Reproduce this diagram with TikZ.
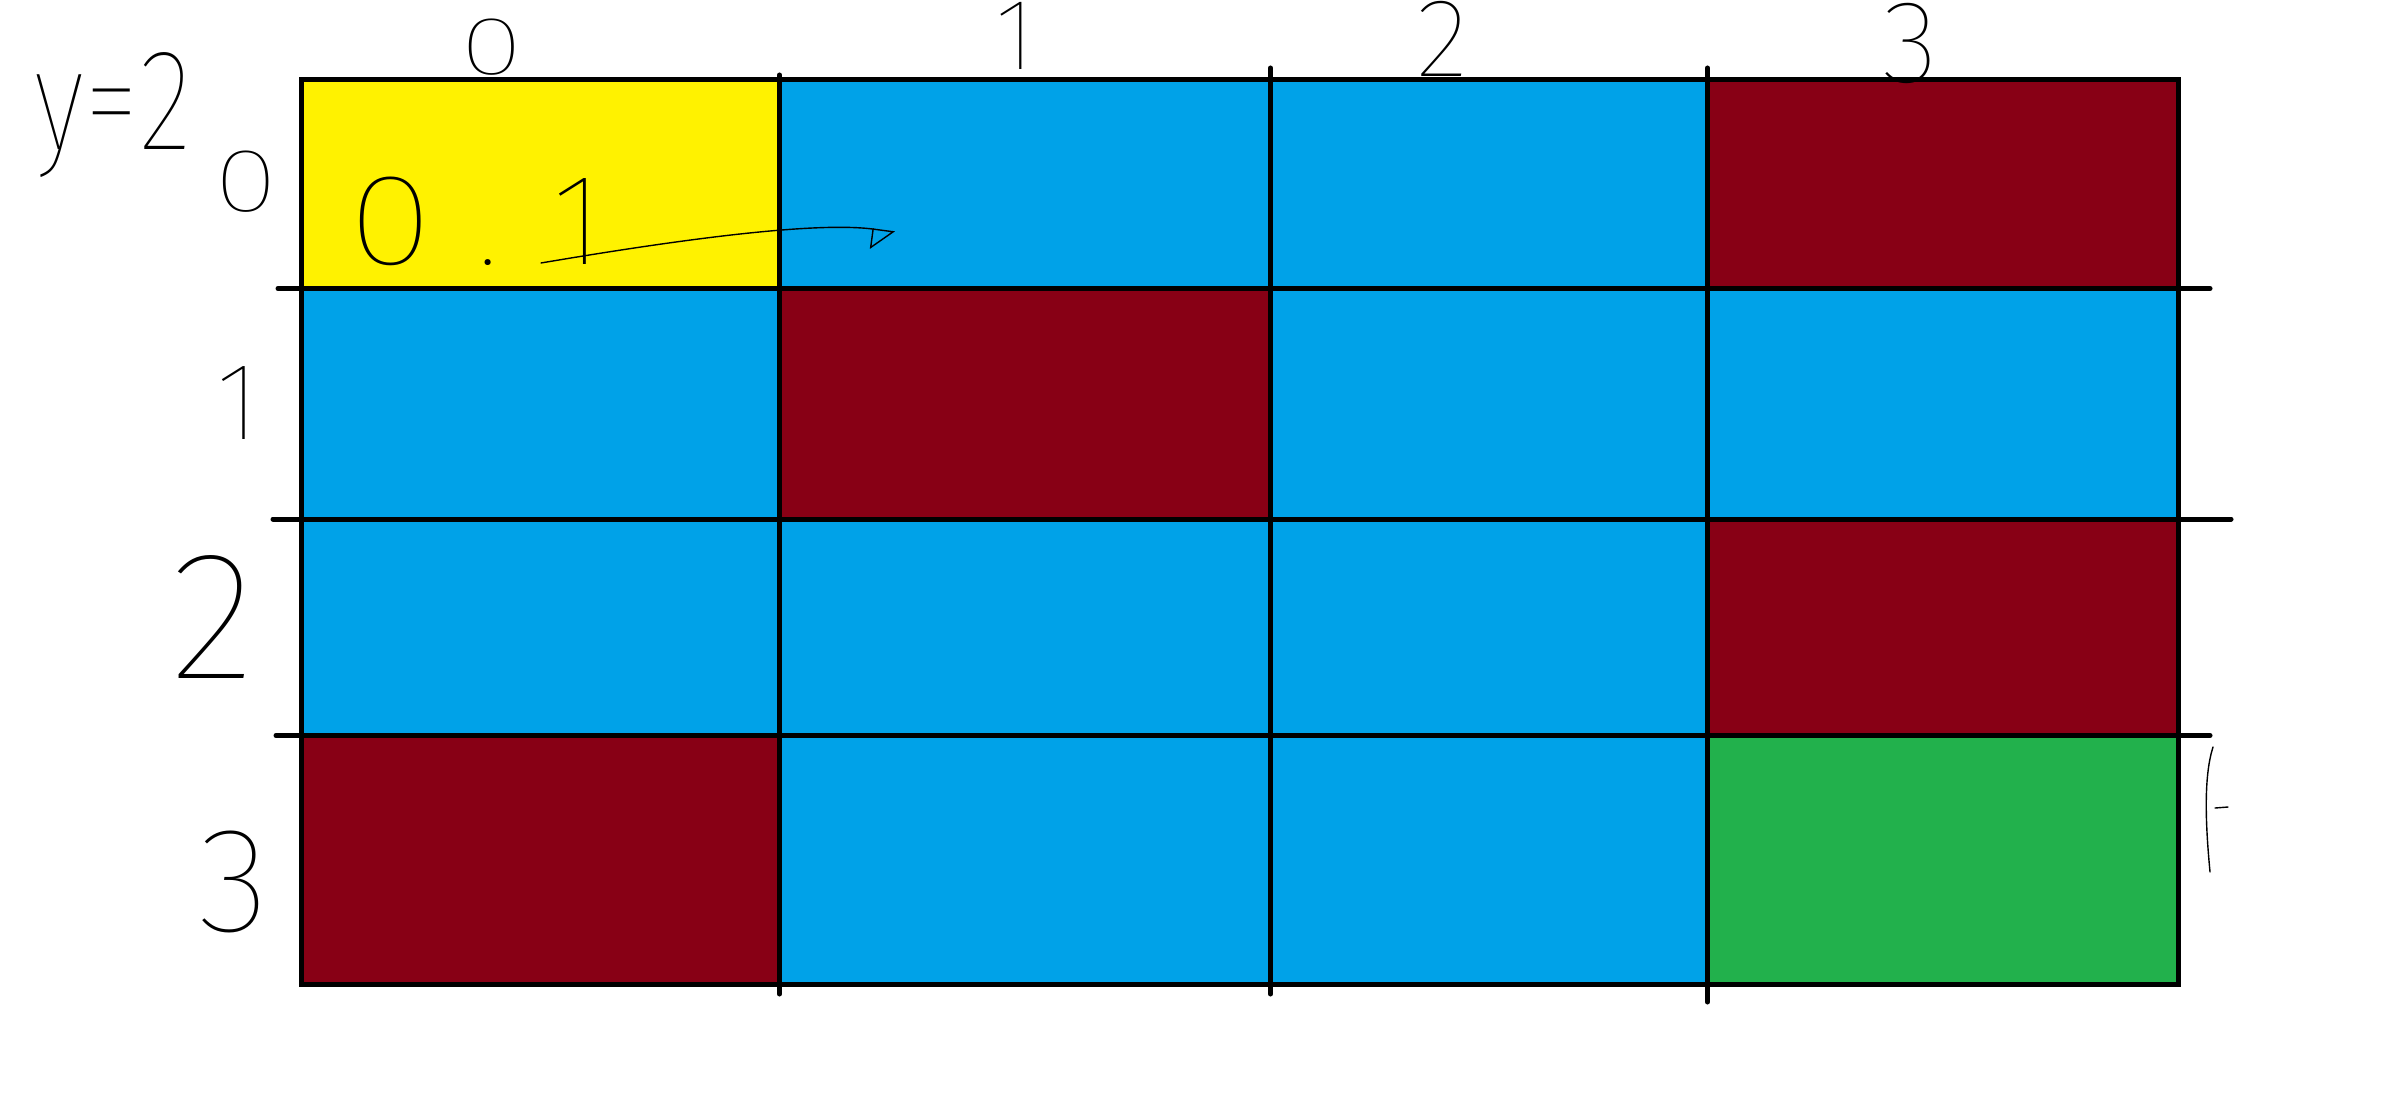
\documentclass[tikz,border=0pt]{standalone}
\usepackage{fontspec}
\usetikzlibrary{arrows.meta}
\IfFontExistsTF{Fira Sans Hair}{\newfontfamily\hand{Fira Sans Hair}}{%
 \IfFontExistsTF{Fira Sans Thin}{\newfontfamily\hand{Fira Sans Thin}}{%
  \IfFontExistsTF{Fira Sans Light}{\newfontfamily\hand{Fira Sans Light}}{%
   \newfontfamily\hand{Fira Sans}}}}
\definecolor{pyellow}{RGB}{255,242,0}
\definecolor{pblue}{RGB}{0,162,232}
\definecolor{pred}{RGB}{136,0,21}
\definecolor{pgreen}{RGB}{34,177,76}
\begin{document}
\begin{tikzpicture}[x=0.1mm,y=-0.1mm,
  gridline/.style={line width=0.5mm, line cap=round},
  ink/.style={line width=0.14mm, line cap=round, line join=round},
  lbl/.style={inner sep=0pt, anchor=base}]
\useasboundingbox (0,0) rectangle (2406,1108);
\fill[white] (0,0) rectangle (2406,1108);
% row 0
\fill[pyellow] (301.5,79.5) rectangle (779.5,288.5);
\fill[pblue]   (779.5,79.5) rectangle (1270.5,288.5);
\fill[pblue]   (1270.5,79.5) rectangle (1707.5,288.5);
\fill[pred]    (1707.5,79.5) rectangle (2178.5,288.5);
% row 1
\fill[pblue]   (301.5,288.5) rectangle (779.5,519);
\fill[pred]    (779.5,288.5) rectangle (1270.5,519);
\fill[pblue]   (1270.5,288.5) rectangle (1707.5,519);
\fill[pblue]   (1707.5,288.5) rectangle (2178.5,519);
% row 2
\fill[pblue]   (301.5,519) rectangle (779.5,735.5);
\fill[pblue]   (779.5,519) rectangle (1270.5,735.5);
\fill[pblue]   (1270.5,519) rectangle (1707.5,735.5);
\fill[pred]    (1707.5,519) rectangle (2178.5,735.5);
% row 3
\fill[pred]    (301.5,735.5) rectangle (779.5,984);
\fill[pblue]   (779.5,735.5) rectangle (1270.5,984);
\fill[pblue]   (1270.5,735.5) rectangle (1707.5,984);
\fill[pgreen]  (1707.5,735.5) rectangle (2178.5,984);
% grid lines
\draw[line width=0.5mm] (301.5,79.5) rectangle (2178.5,984);
\draw[gridline] (278,288.5) -- (2210,288.5);
\draw[gridline] (273,519) -- (2231,519);
\draw[gridline] (276,735.5) -- (2210,735.5);
\draw[gridline] (779.5,75) -- (779.5,994);
\draw[gridline] (1270.5,68) -- (1270.5,994);
\draw[gridline] (1707.5,68) -- (1707.5,1002);
% column labels
\node[lbl, font={\hand\fontsize{23.5pt}{24pt}\selectfont}] (c0) at (492,75) {\scalebox{1.4}[1]{0}};
\node[lbl, font={\hand\fontsize{28.9pt}{29pt}\selectfont}] (c1) at (1015,70) {1};
\node[lbl, font={\hand\fontsize{31.8pt}{32pt}\selectfont}] (c2) at (1442,77) {2};
\node[lbl, font={\hand\fontsize{33.5pt}{34pt}\selectfont}] (c3) at (1910,83) {3};
% row labels
\node[lbl, font={\hand\fontsize{41pt}{42pt}\selectfont}] (ylab) at (113,150) {\scalebox{0.78}[1]{y=2}};
\node[lbl, font={\hand\fontsize{25.6pt}{26pt}\selectfont}] (r0) at (246,212) {\scalebox{1.3}[1]{0}};
\node[lbl, font={\hand\fontsize{31.4pt}{32pt}\selectfont}] (r1) at (238,440) {1};
\node[lbl, font={\hand\fontsize{52pt}{52pt}\selectfont}] (r2) at (213,678) {2};
\node[lbl, font={\hand\fontsize{42.5pt}{43pt}\selectfont}] (r3) at (234,931) {3};
% value in start cell with arrow
\node[lbl, font={\hand\fontsize{37pt}{37pt}\selectfont}] (val) at (476,265) {\scalebox{1.2}[1]{0}\hspace{4.4mm}.\hspace{5.4mm}1};
\coordinate (astart) at (541,263);
\coordinate (atip) at (895,232);
\draw[ink, -{Triangle[open, right, length=2.2mm, width=4mm, line width=0.14mm]}]
  (astart) .. controls (700,236) and (820,222) .. (atip);
% mark right of the green cell
\draw[ink] (2213,747) .. controls (2204,775) and (2205,820) .. (2210,872);
\draw[ink] (2215,808) -- (2228,807);
\end{tikzpicture}
\end{document}
